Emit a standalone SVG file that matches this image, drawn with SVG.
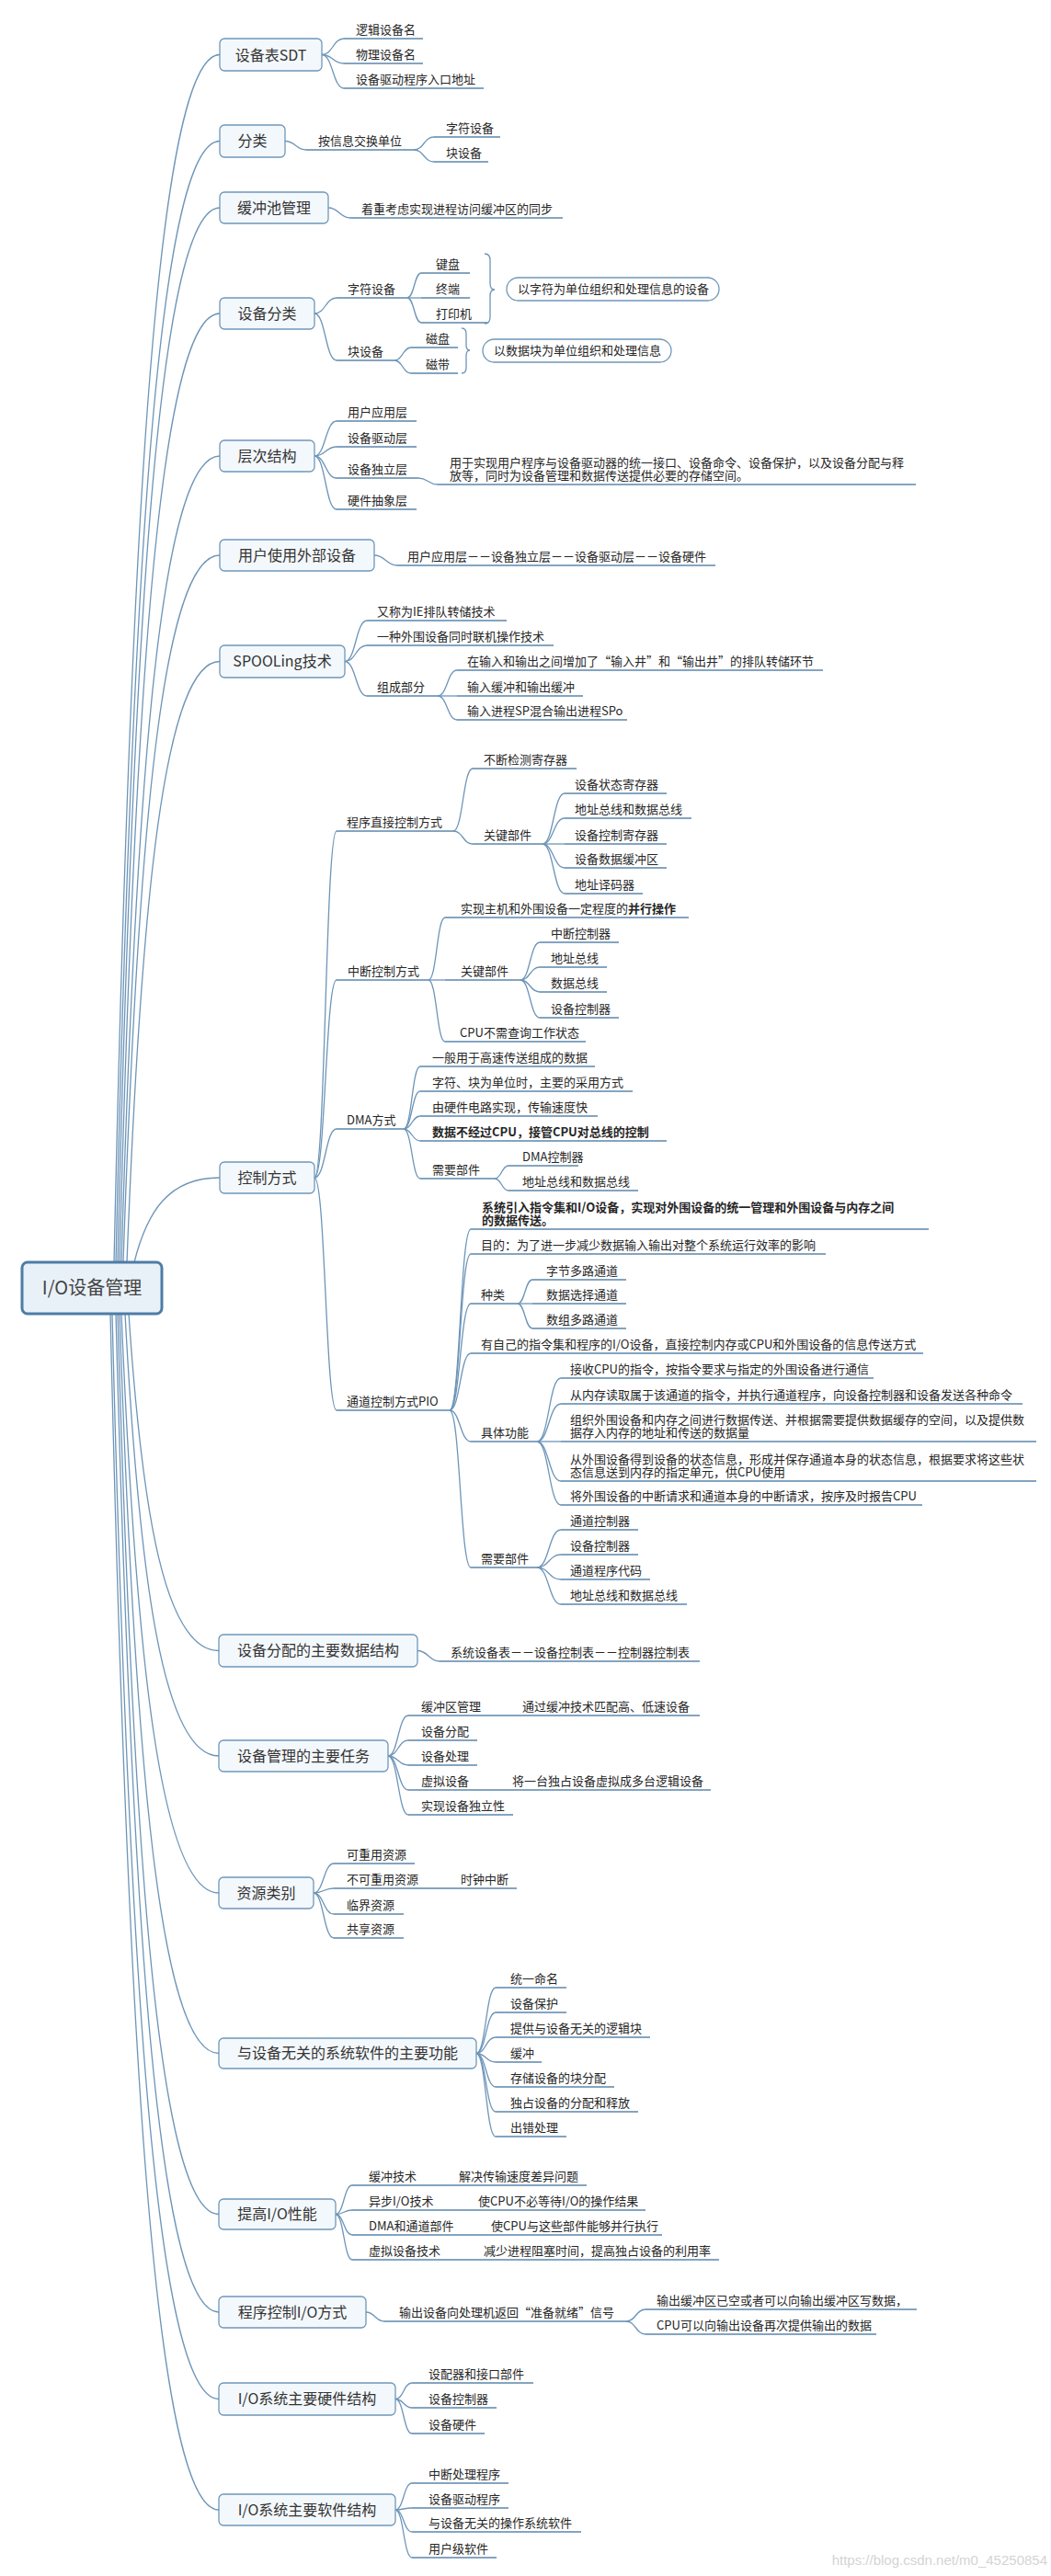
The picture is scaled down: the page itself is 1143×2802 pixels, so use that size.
<svg xmlns="http://www.w3.org/2000/svg" width="1143" height="2802" viewBox="0 0 1143 2802">
<style>
.c{fill:none;stroke:#6d95b8;stroke-width:1.3}
.u{fill:none;stroke:#5b86ab;stroke-width:1.6}
.t{font-family:"Noto Sans CJK SC","Noto Sans",sans-serif;font-size:13px;fill:#262626}
.h{font-family:"Noto Sans CJK SC","Noto Sans",sans-serif;font-size:16px;fill:#333;text-anchor:middle}
.b{fill:#f3f8fc;stroke:#6f97b9;stroke-width:1.3}
.p{fill:#fff;stroke:#6f97b9;stroke-width:1.3}
.bd{font-weight:bold}
</style>
<rect width="1143" height="2802" fill="#fff"/>
<g id="connectors">
<path class="c" d="M124 1373 C141.3 584.9 170 59.5 239 59.5"/>
<path class="c" d="M126 1373 C143 641.3 171.2 153.5 239 153.5"/>
<path class="c" d="M128 1373 C144.7 684.8 172.4 226 239 226"/>
<path class="c" d="M130 1373 C146.4 753.8 173.6 341 239 341"/>
<path class="c" d="M132 1373 C148 846.8 174.8 496 239 496"/>
<path class="c" d="M134 1373 C149.8 911.6 176 604 239 604"/>
<path class="c" d="M138 1373 C153.2 980.9 178.4 719.5 239 719.5"/>
<path class="c" d="M146 1373 C160 1317.8 183.2 1281 239 1281"/>
<path class="c" d="M140 1429 C154.9 1648.9 179.6 1795.5 238 1795.5"/>
<path class="c" d="M136 1429 C151.5 1717.6 177.2 1910 238 1910"/>
<path class="c" d="M132 1429 C148 1807 174.8 2059 238 2059"/>
<path class="c" d="M130 1429 C146.4 1911.7 173.6 2233.5 238 2233.5"/>
<path class="c" d="M128 1429 C144.7 2016.7 172.4 2408.5 238 2408.5"/>
<path class="c" d="M126 1429 C143 2080.6 171.2 2515 238 2515"/>
<path class="c" d="M122 1429 C139.6 2137.3 168.8 2609.5 238 2609.5"/>
<path class="c" d="M120 1429 C137.9 2209.6 167.6 2730 238 2730"/>
<!-- SDT -->
<path class="c" d="M350 59.5 C362 59.5 362 42 374 42"/>
<path class="c" d="M350 59.5 C362 59.5 362 69 374 69"/>
<path class="c" d="M350 59.5 C362 59.5 362 96 374 96"/>
<!-- 分类 -->
<path class="c" d="M310 153.5 C321.5 153.5 321.5 163 333 163"/>
<path class="c" d="M450 163 C461 163 461 149 472 149"/>
<path class="c" d="M450 163 C461 163 461 176 472 176"/>
<!-- 缓冲池 -->
<path class="c" d="M357 226 C369 226 369 237 381 237"/>
<!-- 设备分类 -->
<path class="c" d="M342 341 C354 341 354 324 366 324"/>
<path class="c" d="M342 341 C354 341 354 392 366 392"/>
<path class="c" d="M443 324 C450.5 324 450.5 297 458 297"/>
<path class="c" d="M443 324 L458 324"/>
<path class="c" d="M443 324 C450.5 324 450.5 351 458 351"/>
<path class="c" d="M429 392 C438 392 438 378 447 378"/>
<path class="c" d="M429 392 C438 392 438 406 447 406"/>
<path class="c" d="M527 276 Q533 276 533 283 L533 308 Q533 315 538 315 Q533 315 533 322 L533 345 Q533 352 527 352"/>
<path class="c" d="M502 357 Q507 357 507 363 L507 375 Q507 381 511 381 Q507 381 507 387 L507 400 Q507 406 502 406"/>
<!-- 层次结构 -->
<path class="c" d="M342 496 C354 496 354 458 366 458"/>
<path class="c" d="M342 496 C354 496 354 486 366 486"/>
<path class="c" d="M342 496 C354 496 354 520 366 520"/>
<path class="c" d="M342 496 C354 496 354 554 366 554"/>
<path class="c" d="M455 520 C465.5 520 465.5 527 476 527"/>
<!-- 用户使用外部设备 -->
<path class="c" d="M407 604 C419.5 604 419.5 615 432 615"/>
<!-- SPOOLing -->
<path class="c" d="M375 719.5 C387 719.5 387 675 399 675"/>
<path class="c" d="M375 719.5 C387 719.5 387 702 399 702"/>
<path class="c" d="M375 719.5 C387 719.5 387 757 399 757"/>
<path class="c" d="M476 757 C486.5 757 486.5 729 497 729"/>
<path class="c" d="M476 757 L497 757"/>
<path class="c" d="M476 757 C486.5 757 486.5 783 497 783"/>
<!-- 控制方式 -->
<path class="c" d="M342 1281 C354 1281 354 904 366 904"/>
<path class="c" d="M342 1281 C354 1281 354 1066 366 1066"/>
<path class="c" d="M342 1281 C354 1281 354 1228 366 1228"/>
<path class="c" d="M342 1281 C354 1281 354 1534 366 1534"/>
<path class="c" d="M493 904 C503.5 904 503.5 836 514 836"/>
<path class="c" d="M493 904 C503.5 904 503.5 918 514 918"/>
<path class="c" d="M590 918 C602 918 602 863 614 863"/>
<path class="c" d="M590 918 C602 918 602 890 614 890"/>
<path class="c" d="M590 918 L614 918"/>
<path class="c" d="M590 918 C602 918 602 944 614 944"/>
<path class="c" d="M590 918 C602 918 602 972 614 972"/>
<path class="c" d="M466 1066 C475 1066 475 998 484 998"/>
<path class="c" d="M466 1066 L484 1066"/>
<path class="c" d="M466 1066 C475 1066 475 1133 484 1133"/>
<path class="c" d="M566 1066 C576.5 1066 576.5 1025 587 1025"/>
<path class="c" d="M566 1066 C576.5 1066 576.5 1052 587 1052"/>
<path class="c" d="M566 1066 C576.5 1066 576.5 1079 587 1079"/>
<path class="c" d="M566 1066 C576.5 1066 576.5 1107 587 1107"/>
<path class="c" d="M439 1228 C448 1228 448 1160 457 1160"/>
<path class="c" d="M439 1228 C448 1228 448 1187 457 1187"/>
<path class="c" d="M439 1228 C448 1228 448 1214 457 1214"/>
<path class="c" d="M439 1228 C448 1228 448 1241 457 1241"/>
<path class="c" d="M439 1228 C448 1228 448 1282 457 1282"/>
<path class="c" d="M538 1282 C545.5 1282 545.5 1268 553 1268"/>
<path class="c" d="M538 1282 C545.5 1282 545.5 1295 553 1295"/>
<path class="c" d="M489 1534 C500.5 1534 500.5 1337 512 1337"/>
<path class="c" d="M489 1534 C500.5 1534 500.5 1364 512 1364"/>
<path class="c" d="M489 1534 C500.5 1534 500.5 1418 512 1418"/>
<path class="c" d="M489 1534 C500.5 1534 500.5 1472 512 1472"/>
<path class="c" d="M489 1534 C500.5 1534 500.5 1568 512 1568"/>
<path class="c" d="M489 1534 C500.5 1534 500.5 1705 512 1705"/>
<path class="c" d="M563 1418 C571 1418 571 1392 579 1392"/>
<path class="c" d="M563 1418 L579 1418"/>
<path class="c" d="M563 1418 C571 1418 571 1445 579 1445"/>
<path class="c" d="M584 1568 C597 1568 597 1499 610 1499"/>
<path class="c" d="M584 1568 C597 1568 597 1527 610 1527"/>
<path class="c" d="M584 1568 L610 1568"/>
<path class="c" d="M584 1568 C597 1568 597 1611 610 1611"/>
<path class="c" d="M584 1568 C597 1568 597 1637 610 1637"/>
<path class="c" d="M584 1705 C597 1705 597 1664 610 1664"/>
<path class="c" d="M584 1705 C597 1705 597 1691 610 1691"/>
<path class="c" d="M584 1705 C597 1705 597 1718 610 1718"/>
<path class="c" d="M584 1705 C597 1705 597 1745 610 1745"/>
<!-- 设备分配的主要数据结构 -->
<path class="c" d="M454 1795.5 C466 1795.5 466 1807 478 1807"/>
<!-- 设备管理的主要任务 -->
<path class="c" d="M422 1910 C433 1910 433 1866 444 1866"/>
<path class="c" d="M422 1910 C433 1910 433 1893 444 1893"/>
<path class="c" d="M422 1910 C433 1910 433 1920 444 1920"/>
<path class="c" d="M422 1910 C433 1910 433 1947 444 1947"/>
<path class="c" d="M422 1910 C433 1910 433 1974 444 1974"/>
<!-- 资源类别 -->
<path class="c" d="M341 2059 C352 2059 352 2027 363 2027"/>
<path class="c" d="M341 2059 C352 2059 352 2054 363 2054"/>
<path class="c" d="M341 2059 C352 2059 352 2082 363 2082"/>
<path class="c" d="M341 2059 C352 2059 352 2108 363 2108"/>
<!-- 与设备无关 -->
<path class="c" d="M518 2233.5 C528.5 2233.5 528.5 2162 539 2162"/>
<path class="c" d="M518 2233.5 C528.5 2233.5 528.5 2189 539 2189"/>
<path class="c" d="M518 2233.5 C528.5 2233.5 528.5 2216 539 2216"/>
<path class="c" d="M518 2233.5 C528.5 2233.5 528.5 2243 539 2243"/>
<path class="c" d="M518 2233.5 C528.5 2233.5 528.5 2270 539 2270"/>
<path class="c" d="M518 2233.5 C528.5 2233.5 528.5 2297 539 2297"/>
<path class="c" d="M518 2233.5 C528.5 2233.5 528.5 2324 539 2324"/>
<!-- 提高I/O性能 -->
<path class="c" d="M365 2408.5 C374 2408.5 374 2377 383 2377"/>
<path class="c" d="M365 2408.5 C374 2408.5 374 2404 383 2404"/>
<path class="c" d="M365 2408.5 C374 2408.5 374 2431 383 2431"/>
<path class="c" d="M365 2408.5 C374 2408.5 374 2458 383 2458"/>
<!-- 程序控制I/O方式 -->
<path class="c" d="M398 2515 C408 2515 408 2525 418 2525"/>
<path class="c" d="M681 2525 C691.5 2525 691.5 2512 702 2512"/>
<path class="c" d="M681 2525 C691.5 2525 691.5 2539 702 2539"/>
<!-- 硬件 -->
<path class="c" d="M430 2609.5 C439 2609.5 439 2592 448 2592"/>
<path class="c" d="M430 2609.5 C439 2609.5 439 2619 448 2619"/>
<path class="c" d="M430 2609.5 C439 2609.5 439 2647 448 2647"/>
<!-- 软件 -->
<path class="c" d="M430 2730 C439 2730 439 2701 448 2701"/>
<path class="c" d="M430 2730 C439 2730 439 2728 448 2728"/>
<path class="c" d="M430 2730 C439 2730 439 2754 448 2754"/>
<path class="c" d="M430 2730 C439 2730 439 2782 448 2782"/>
</g>

<g id="root">
<rect x="24" y="1373" width="152" height="56" rx="6" fill="#e9f1f8" stroke="#4d7ca6" stroke-width="3"/>
<text x="100" y="1408" font-family="'Noto Sans CJK SC','Noto Sans',sans-serif" font-size="20" fill="#444" text-anchor="middle">I/O设备管理</text>
</g>

<g id="t1"><rect class="b" x="239" y="42" width="111" height="35" rx="5"/><text class="h" x="294.5" y="65.5">设备表SDT</text></g>
<g id="n1a"><text class="t" x="387" y="37">逻辑设备名</text><path class="u" d="M374 42 H460"/></g>
<g id="n1b"><text class="t" x="387" y="64">物理设备名</text><path class="u" d="M374 69 H460"/></g>
<g id="n1c"><text class="t" x="387" y="91">设备驱动程序入口地址</text><path class="u" d="M374 96 H526"/></g>

<g id="t2"><rect class="b" x="239" y="136" width="71" height="35" rx="5"/><text class="h" x="274.5" y="159">分类</text></g>
<g id="n2a"><text class="t" x="346" y="158">按信息交换单位</text><path class="u" d="M333 163 H450"/></g>
<g id="n2a1"><text class="t" x="485" y="144">字符设备</text><path class="u" d="M472 149 H544"/></g>
<g id="n2a2"><text class="t" x="485" y="171">块设备</text><path class="u" d="M472 176 H531"/></g>

<g id="t3"><rect class="b" x="239" y="209" width="118" height="34" rx="5"/><text class="h" x="298" y="231.5">缓冲池管理</text></g>
<g id="n3a"><text class="t" x="393" y="232">着重考虑实现进程访问缓冲区的同步</text><path class="u" d="M381 237 H612"/></g>

<g id="t4"><rect class="b" x="239" y="324" width="103" height="34" rx="5"/><text class="h" x="290.5" y="346.5">设备分类</text></g>
<g id="n4a"><text class="t" x="378" y="319">字符设备</text><path class="u" d="M366 324 H443"/></g>
<g id="n4a1"><text class="t" x="474" y="292">键盘</text><path class="u" d="M458 297 H511"/></g>
<g id="n4a2"><text class="t" x="474" y="319">终端</text><path class="u" d="M458 324 H511"/></g>
<g id="n4a3"><text class="t" x="474" y="346">打印机</text><path class="u" d="M458 351 H530"/></g>
<g id="n4s1"><rect class="p" x="551" y="302" width="231" height="25" rx="12.5"/><text class="t" x="563" y="319">以字符为单位组织和处理信息的设备</text></g>
<g id="n4b"><text class="t" x="378" y="387">块设备</text><path class="u" d="M366 392 H429"/></g>
<g id="n4b1"><text class="t" x="463" y="373">磁盘</text><path class="u" d="M447 378 H498"/></g>
<g id="n4b2"><text class="t" x="463" y="401">磁带</text><path class="u" d="M447 406 H498"/></g>
<g id="n4s2"><rect class="p" x="525" y="369" width="205" height="25" rx="12.5"/><text class="t" x="537" y="386">以数据块为单位组织和处理信息</text></g>

<g id="t5"><rect class="b" x="239" y="479" width="103" height="34" rx="5"/><text class="h" x="290.5" y="501.5">层次结构</text></g>
<g id="n5a"><text class="t" x="378" y="453">用户应用层</text><path class="u" d="M366 458 H453"/></g>
<g id="n5b"><text class="t" x="378" y="481">设备驱动层</text><path class="u" d="M366 486 H453"/></g>
<g id="n5c"><text class="t" x="378" y="515">设备独立层</text><path class="u" d="M366 520 H455"/></g>
<g id="n5c1"><text class="t" x="489" y="508">用于实现用户程序与设备驱动器的统一接口、设备命令、设备保护，以及设备分配与释</text><text class="t" x="489" y="522">放等，同时为设备管理和数据传送提供必要的存储空间。</text><path class="u" d="M476 527 H996"/></g>
<g id="n5d"><text class="t" x="378" y="549">硬件抽象层</text><path class="u" d="M366 554 H453"/></g>

<g id="t6"><rect class="b" x="239" y="587" width="168" height="34" rx="5"/><text class="h" x="323" y="609.5">用户使用外部设备</text></g>
<g id="n6a"><text class="t" x="443" y="610">用户应用层－－设备独立层－－设备驱动层－－设备硬件</text><path class="u" d="M432 615 H778"/></g>

<g id="t7"><rect class="b" x="239" y="702" width="136" height="35" rx="5"/><text class="h" x="307" y="725">SPOOLing技术</text></g>
<g id="n7a"><text class="t" x="410" y="670">又称为IE排队转储技术</text><path class="u" d="M399 675 H551"/></g>
<g id="n7b"><text class="t" x="410" y="697">一种外围设备同时联机操作技术</text><path class="u" d="M399 702 H602"/></g>
<g id="n7c"><text class="t" x="410" y="752">组成部分</text><path class="u" d="M399 757 H476"/></g>
<g id="n7c1"><text class="t" x="508" y="724">在输入和输出之间增加了“输入井”和“输出井”的排队转储环节</text><path class="u" d="M497 729 H895"/></g>
<g id="n7c2"><text class="t" x="508" y="752">输入缓冲和输出缓冲</text><path class="u" d="M497 757 H634"/></g>
<g id="n7c3"><text class="t" x="508" y="778">输入进程SP混合输出进程SPo</text><path class="u" d="M497 783 H682"/></g>

<g id="t8"><rect class="b" x="239" y="1264" width="103" height="34" rx="5"/><text class="h" x="290.5" y="1286.5">控制方式</text></g>
<g id="n8a"><text class="t" x="377" y="899">程序直接控制方式</text><path class="u" d="M366 904 H493"/></g>
<g id="n8a1"><text class="t" x="526" y="831">不断检测寄存器</text><path class="u" d="M514 836 H627"/></g>
<g id="n8a2"><text class="t" x="526" y="913">关键部件</text><path class="u" d="M514 918 H590"/></g>
<g id="n8a21"><text class="t" x="625" y="858">设备状态寄存器</text><path class="u" d="M614 863 H725"/></g>
<g id="n8a22"><text class="t" x="625" y="885">地址总线和数据总线</text><path class="u" d="M614 890 H752"/></g>
<g id="n8a23"><text class="t" x="625" y="913">设备控制寄存器</text><path class="u" d="M614 918 H725"/></g>
<g id="n8a24"><text class="t" x="625" y="939">设备数据缓冲区</text><path class="u" d="M614 944 H725"/></g>
<g id="n8a25"><text class="t" x="625" y="967">地址译码器</text><path class="u" d="M614 972 H699"/></g>
<g id="n8b"><text class="t" x="378" y="1061">中断控制方式</text><path class="u" d="M366 1066 H466"/></g>
<g id="n8b1"><text class="t" x="501" y="993">实现主机和外围设备一定程度的<tspan class="bd">并行操作</tspan></text><path class="u" d="M484 998 H749"/></g>
<g id="n8b2"><text class="t" x="501" y="1061">关键部件</text><path class="u" d="M484 1066 H566"/></g>
<g id="n8b21"><text class="t" x="599" y="1020">中断控制器</text><path class="u" d="M587 1025 H673"/></g>
<g id="n8b22"><text class="t" x="599" y="1047">地址总线</text><path class="u" d="M587 1052 H660"/></g>
<g id="n8b23"><text class="t" x="599" y="1074">数据总线</text><path class="u" d="M587 1079 H660"/></g>
<g id="n8b24"><text class="t" x="599" y="1102">设备控制器</text><path class="u" d="M587 1107 H673"/></g>
<g id="n8b3"><text class="t" x="500" y="1128">CPU不需查询工作状态</text><path class="u" d="M484 1133 H637"/></g>
<g id="n8c"><text class="t" x="377" y="1223">DMA方式</text><path class="u" d="M366 1228 H439"/></g>
<g id="n8c1"><text class="t" x="470" y="1155">一般用于高速传送组成的数据</text><path class="u" d="M457 1160 H647"/></g>
<g id="n8c2"><text class="t" x="470" y="1182">字符、块为单位时，主要的采用方式</text><path class="u" d="M457 1187 H688"/></g>
<g id="n8c3"><text class="t" x="470" y="1209">由硬件电路实现，传输速度快</text><path class="u" d="M457 1214 H650"/></g>
<g id="n8c4"><text class="t bd" x="470" y="1236">数据不经过CPU，接管CPU对总线的控制</text><path class="u" d="M457 1241 H725"/></g>
<g id="n8c5"><text class="t" x="470" y="1277">需要部件</text><path class="u" d="M457 1282 H538"/></g>
<g id="n8c51"><text class="t" x="568" y="1263">DMA控制器</text><path class="u" d="M553 1268 H629"/></g>
<g id="n8c52"><text class="t" x="568" y="1290">地址总线和数据总线</text><path class="u" d="M553 1295 H694"/></g>
<g id="n8d"><text class="t" x="377" y="1529">通道控制方式PIO</text><path class="u" d="M366 1534 H489"/></g>
<g id="n8d1"><text class="t bd" x="524" y="1318">系统引入指令集和I/O设备，实现对外围设备的统一管理和外围设备与内存之间</text><text class="t bd" x="524" y="1332">的数据传送。</text><path class="u" d="M512 1337 H1010"/></g>
<g id="n8d2"><text class="t" x="523" y="1359">目的：为了进一步减少数据输入输出对整个系统运行效率的影响</text><path class="u" d="M512 1364 H898"/></g>
<g id="n8d3"><text class="t" x="523" y="1413">种类</text><path class="u" d="M512 1418 H563"/></g>
<g id="n8d31"><text class="t" x="594" y="1387">字节多路通道</text><path class="u" d="M579 1392 H681"/></g>
<g id="n8d32"><text class="t" x="594" y="1413">数据选择通道</text><path class="u" d="M579 1418 H681"/></g>
<g id="n8d33"><text class="t" x="594" y="1440">数组多路通道</text><path class="u" d="M579 1445 H681"/></g>
<g id="n8d4"><text class="t" x="523" y="1467">有自己的指令集和程序的I/O设备，直接控制内存或CPU和外围设备的信息传送方式</text><path class="u" d="M512 1472 H1004"/></g>
<g id="n8d5"><text class="t" x="523" y="1563">具体功能</text><path class="u" d="M512 1568 H584"/></g>
<g id="n8d51"><text class="t" x="620" y="1494">接收CPU的指令，按指令要求与指定的外围设备进行通信</text><path class="u" d="M610 1499 H950"/></g>
<g id="n8d52"><text class="t" x="620" y="1522">从内存读取属于该通道的指令，并执行通道程序，向设备控制器和设备发送各种命令</text><path class="u" d="M610 1527 H1112"/></g>
<g id="n8d53"><text class="t" x="620" y="1549">组织外围设备和内存之间进行数据传送、并根据需要提供数据缓存的空间，以及提供数</text><text class="t" x="620" y="1563">据存入内存的地址和传送的数据量</text><path class="u" d="M610 1568 H1127"/></g>
<g id="n8d54"><text class="t" x="620" y="1592">从外围设备得到设备的状态信息，形成并保存通道本身的状态信息，根据要求将这些状</text><text class="t" x="620" y="1606">态信息送到内存的指定单元，供CPU使用</text><path class="u" d="M610 1611 H1127"/></g>
<g id="n8d55"><text class="t" x="620" y="1632">将外围设备的中断请求和通道本身的中断请求，按序及时报告CPU</text><path class="u" d="M610 1637 H1003"/></g>
<g id="n8d6"><text class="t" x="523" y="1700">需要部件</text><path class="u" d="M512 1705 H584"/></g>
<g id="n8d61"><text class="t" x="620" y="1659">通道控制器</text><path class="u" d="M610 1664 H694"/></g>
<g id="n8d62"><text class="t" x="620" y="1686">设备控制器</text><path class="u" d="M610 1691 H694"/></g>
<g id="n8d63"><text class="t" x="620" y="1713">通道程序代码</text><path class="u" d="M610 1718 H707"/></g>
<g id="n8d64"><text class="t" x="620" y="1740">地址总线和数据总线</text><path class="u" d="M610 1745 H747"/></g>

<g id="t9"><rect class="b" x="238" y="1778" width="216" height="35" rx="5"/><text class="h" x="346" y="1801">设备分配的主要数据结构</text></g>
<g id="n9a"><text class="t" x="490" y="1802">系统设备表－－设备控制表－－控制器控制表</text><path class="u" d="M478 1807 H761"/></g>

<g id="t10"><rect class="b" x="238" y="1893" width="184" height="34" rx="5"/><text class="h" x="330" y="1915.5">设备管理的主要任务</text></g>
<g id="n10a"><text class="t" x="458" y="1861">缓冲区管理</text><text class="t" x="568" y="1861">通过缓冲技术匹配高、低速设备</text><path class="u" d="M444 1866 H761"/></g>
<g id="n10b"><text class="t" x="458" y="1888">设备分配</text><path class="u" d="M444 1893 H519"/></g>
<g id="n10c"><text class="t" x="458" y="1915">设备处理</text><path class="u" d="M444 1920 H519"/></g>
<g id="n10d"><text class="t" x="458" y="1942">虚拟设备</text><text class="t" x="557" y="1942">将一台独占设备虚拟成多台逻辑设备</text><path class="u" d="M444 1947 H773"/></g>
<g id="n10e"><text class="t" x="458" y="1969">实现设备独立性</text><path class="u" d="M444 1974 H558"/></g>

<g id="t11"><rect class="b" x="238" y="2042" width="103" height="34" rx="5"/><text class="h" x="289.5" y="2064.5">资源类别</text></g>
<g id="n11a"><text class="t" x="377" y="2022">可重用资源</text><path class="u" d="M363 2027 H451"/></g>
<g id="n11b"><text class="t" x="377" y="2049">不可重用资源</text><text class="t" x="501" y="2049">时钟中断</text><path class="u" d="M363 2054 H562"/></g>
<g id="n11c"><text class="t" x="377" y="2077">临界资源</text><path class="u" d="M363 2082 H439"/></g>
<g id="n11d"><text class="t" x="377" y="2103">共享资源</text><path class="u" d="M363 2108 H439"/></g>

<g id="t12"><rect class="b" x="238" y="2217" width="280" height="33" rx="5"/><text class="h" x="378" y="2239">与设备无关的系统软件的主要功能</text></g>
<g id="n12a"><text class="t" x="555" y="2157">统一命名</text><path class="u" d="M539 2162 H616"/></g>
<g id="n12b"><text class="t" x="555" y="2184">设备保护</text><path class="u" d="M539 2189 H616"/></g>
<g id="n12c"><text class="t" x="555" y="2211">提供与设备无关的逻辑块</text><path class="u" d="M539 2216 H707"/></g>
<g id="n12d"><text class="t" x="555" y="2238">缓冲</text><path class="u" d="M539 2243 H589"/></g>
<g id="n12e"><text class="t" x="555" y="2265">存储设备的块分配</text><path class="u" d="M539 2270 H668"/></g>
<g id="n12f"><text class="t" x="555" y="2292">独占设备的分配和释放</text><path class="u" d="M539 2297 H694"/></g>
<g id="n12g"><text class="t" x="555" y="2319">出错处理</text><path class="u" d="M539 2324 H616"/></g>

<g id="t13"><rect class="b" x="238" y="2392" width="127" height="33" rx="5"/><text class="h" x="301.5" y="2414">提高I/O性能</text></g>
<g id="n13a"><text class="t" x="401" y="2372">缓冲技术</text><text class="t" x="499" y="2372">解决传输速度差异问题</text><path class="u" d="M383 2377 H638"/></g>
<g id="n13b"><text class="t" x="401" y="2399">异步I/O技术</text><text class="t" x="520" y="2399">使CPU不必等待I/O的操作结果</text><path class="u" d="M383 2404 H702"/></g>
<g id="n13c"><text class="t" x="401" y="2426">DMA和通道部件</text><text class="t" x="534" y="2426">使CPU与这些部件能够并行执行</text><path class="u" d="M383 2431 H720"/></g>
<g id="n13d"><text class="t" x="401" y="2453">虚拟设备技术</text><text class="t" x="526" y="2453">减少进程阻塞时间，提高独占设备的利用率</text><path class="u" d="M383 2458 H782"/></g>

<g id="t14"><rect class="b" x="238" y="2498" width="160" height="34" rx="5"/><text class="h" x="318" y="2520.5">程序控制I/O方式</text></g>
<g id="n14a"><text class="t" x="434" y="2520">输出设备向处理机返回“准备就绪”信号</text><path class="u" d="M418 2525 H681"/></g>
<g id="n14a1"><text class="t" x="714" y="2507">输出缓冲区已空或者可以向输出缓冲区写数据，</text><path class="u" d="M702 2512 H997"/></g>
<g id="n14a2"><text class="t" x="714" y="2534">CPU可以向输出设备再次提供输出的数据</text><path class="u" d="M702 2539 H953"/></g>

<g id="t15"><rect class="b" x="238" y="2592" width="192" height="35" rx="5"/><text class="h" x="334" y="2615">I/O系统主要硬件结构</text></g>
<g id="n15a"><text class="t" x="466" y="2587">设配器和接口部件</text><path class="u" d="M448 2592 H580"/></g>
<g id="n15b"><text class="t" x="466" y="2614">设备控制器</text><path class="u" d="M448 2619 H540"/></g>
<g id="n15c"><text class="t" x="466" y="2642">设备硬件</text><path class="u" d="M448 2647 H527"/></g>

<g id="t16"><rect class="b" x="238" y="2713" width="192" height="34" rx="5"/><text class="h" x="334" y="2735.5">I/O系统主要软件结构</text></g>
<g id="n16a"><text class="t" x="466" y="2696">中断处理程序</text><path class="u" d="M448 2701 H553"/></g>
<g id="n16b"><text class="t" x="466" y="2723">设备驱动程序</text><path class="u" d="M448 2728 H553"/></g>
<g id="n16c"><text class="t" x="466" y="2749">与设备无关的操作系统软件</text><path class="u" d="M448 2754 H632"/></g>
<g id="n16d"><text class="t" x="466" y="2777">用户级软件</text><path class="u" d="M448 2782 H540"/></g>

<text x="1139" y="2790" font-family="'Liberation Sans',sans-serif" font-size="15" fill="#d4d4d4" text-anchor="end">https://blog.csdn.net/m0_45250854</text>
</svg>
